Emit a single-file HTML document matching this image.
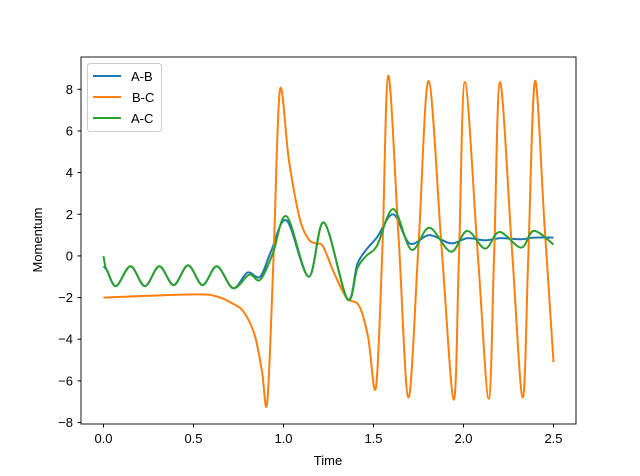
<!DOCTYPE html>
<html><head><meta charset="utf-8"><style>
body{margin:0;background:#fff;}
svg{display:block;font-family:"Liberation Sans","DejaVu Sans",sans-serif;}
</style></head><body>
<svg id="chart" width="640" height="476">
<rect x="0" y="0" width="640" height="476" fill="#fff"/>
<g id="lines"></g>
<rect x="81" y="57" width="495" height="367" fill="none" stroke="#000" stroke-width="0.9"/>
<g id="xticks"></g>
<g id="yticks"></g>
<text x="328" y="465" font-size="13" text-anchor="middle">Time</text>
<text x="42" y="240" font-size="13" text-anchor="middle" transform="rotate(-90 42 240)">Momentum</text>
<g>
<rect x="87.5" y="63.5" width="74" height="68" rx="3" fill="#fff" fill-opacity="0.8" stroke="#ccc"/>
<g><line x1="93" y1="76" x2="121" y2="76" stroke="#1f77b4" stroke-width="2"/><text x="131" y="81" font-size="13">A-B</text></g>
<g><line x1="93" y1="97" x2="121" y2="97" stroke="#ff7f0e" stroke-width="2"/><text x="132" y="102" font-size="13">B-C</text></g>
<g><line x1="93" y1="118" x2="121" y2="118" stroke="#2ca02c" stroke-width="2"/><text x="131" y="123" font-size="13">A-C</text></g>
</g>
</svg>
<script>
const xTicks=[0,0.5,1.0,1.5,2.0,2.5];
const xTickLabels=["0.0","0.5","1.0","1.5","2.0","2.5"];
const yTicks=[-8,-6,-4,-2,0,2,4,6,8];
const bcT=[0,0.5,0.63,0.72,0.78,0.84,0.88,0.91,0.945,0.98,1.03,1.09,1.14,1.18,1.22,1.28,1.35,1.42,1.47,1.514,1.55,1.582,1.64,1.694,1.75,1.806,1.88,1.946,1.975,2.008,2.08,2.14,2.17,2.203,2.27,2.329,2.36,2.397,2.45,2.5];
const bcV=[-2,-1.85,-1.95,-2.3,-2.7,-3.8,-5.5,-7.0,0,7.95,4.6,1.8,0.8,0.6,0.45,-0.8,-2.0,-2.4,-3.9,-6.3,0.5,8.65,0.8,-6.8,0.5,8.4,0.2,-6.9,0,8.35,0,-6.85,0,8.35,0.2,-6.8,0,8.4,1.5,-5.1];
const abT=[0,0.02,0.07,0.15,0.23,0.31,0.39,0.47,0.55,0.63,0.72,0.8,0.87,0.93,1.017,1.14,1.225,1.354,1.41,1.46,1.52,1.61,1.7,1.81,1.93,2.02,2.12,2.2,2.32,2.39,2.5];
const abV=[-0.5,-0.7,-1.45,-0.5,-1.45,-0.5,-1.4,-0.45,-1.4,-0.5,-1.55,-0.8,-1.0,0.2,1.7,-1.0,1.6,-2.07,-0.4,0.3,0.9,2.0,0.6,1.0,0.6,0.85,0.75,0.85,0.8,0.88,0.88];
const acT=[0,0.01,0.02,0.07,0.15,0.23,0.31,0.39,0.47,0.55,0.63,0.72,0.81,0.87,0.94,1.017,1.14,1.225,1.354,1.41,1.46,1.52,1.61,1.71,1.81,1.93,2.02,2.12,2.2,2.32,2.39,2.5];
const acV=[0,-0.5,-0.7,-1.45,-0.5,-1.45,-0.5,-1.4,-0.45,-1.4,-0.5,-1.55,-0.9,-1.15,0.1,1.9,-1.0,1.6,-2.07,-0.6,0.0,0.5,2.25,0.3,1.35,0.2,1.2,0.35,1.15,0.4,1.2,0.55];
const X0=81,X1=576,Y0=424,Y1=57,XMIN=-0.125,XMAX=2.625,YMIN=-8.07,YMAX=9.55;
function sx(t){return X0+(t-XMIN)/(XMAX-XMIN)*(X1-X0);}
function sy(v){return Y0-(v-YMIN)/(YMAX-YMIN)*(Y0-Y1);}
const NS="http://www.w3.org/2000/svg";
function pathFor(ts,vs){
  const p=ts.map((t,i)=>[sx(t),sy(vs[i])]);
  let d="M"+p[0][0].toFixed(1)+","+p[0][1].toFixed(1);
  for(let i=0;i<p.length-1;i++){
    const p0=p[Math.max(0,i-1)],p1=p[i],p2=p[i+1],p3=p[Math.min(p.length-1,i+2)];
    const c1=[p1[0]+(p2[0]-p0[0])/6,p1[1]+(p2[1]-p0[1])/6];
    const c2=[p2[0]-(p3[0]-p1[0])/6,p2[1]-(p3[1]-p1[1])/6];
    d+=" C"+c1[0].toFixed(1)+","+c1[1].toFixed(1)+" "+c2[0].toFixed(1)+","+c2[1].toFixed(1)+" "+p2[0].toFixed(1)+","+p2[1].toFixed(1);
  }
  return d;
}
const lines=document.getElementById('lines');
function addLine(ts,vs,color,name){
  const el=document.createElementNS(NS,'path');
  el.setAttribute('d',pathFor(ts,vs));
  el.setAttribute('fill','none');el.setAttribute('stroke',color);el.setAttribute('stroke-width','2');
  
  
  lines.appendChild(el);
}
addLine(abT,abV,'#1f77b4','series-a-b');
addLine(bcT,bcV,'#ff7f0e','series-b-c');
addLine(acT,acV,'#2ca02c','series-a-c');
const xg=document.getElementById('xticks');
xTicks.forEach((t,i)=>{
  const x=sx(t);
  const l=document.createElementNS(NS,'line');
  l.setAttribute('x1',x);l.setAttribute('x2',x);l.setAttribute('y1',424);l.setAttribute('y2',427.5);l.setAttribute('stroke','#000');
  
  
  xg.appendChild(l);
  const tx=document.createElementNS(NS,'text');
  tx.setAttribute('x',x);tx.setAttribute('y',443);tx.setAttribute('font-size','13');tx.setAttribute('text-anchor','middle');
  tx.textContent=xTickLabels[i];
  
  
  xg.appendChild(tx);
});
const yg=document.getElementById('yticks');
yTicks.forEach(v=>{
  const y=sy(v);
  const l=document.createElementNS(NS,'line');
  l.setAttribute('x1',77.5);l.setAttribute('x2',81);l.setAttribute('y1',y);l.setAttribute('y2',y);l.setAttribute('stroke','#000');
  
  
  yg.appendChild(l);
  const tx=document.createElementNS(NS,'text');
  tx.setAttribute('x',73);tx.setAttribute('y',y+4.5);tx.setAttribute('font-size','13');tx.setAttribute('text-anchor','end');
  tx.textContent=(v<0?'\u2212'+(-v):String(v));
  
  
  yg.appendChild(tx);
});
</script>
</body></html>
